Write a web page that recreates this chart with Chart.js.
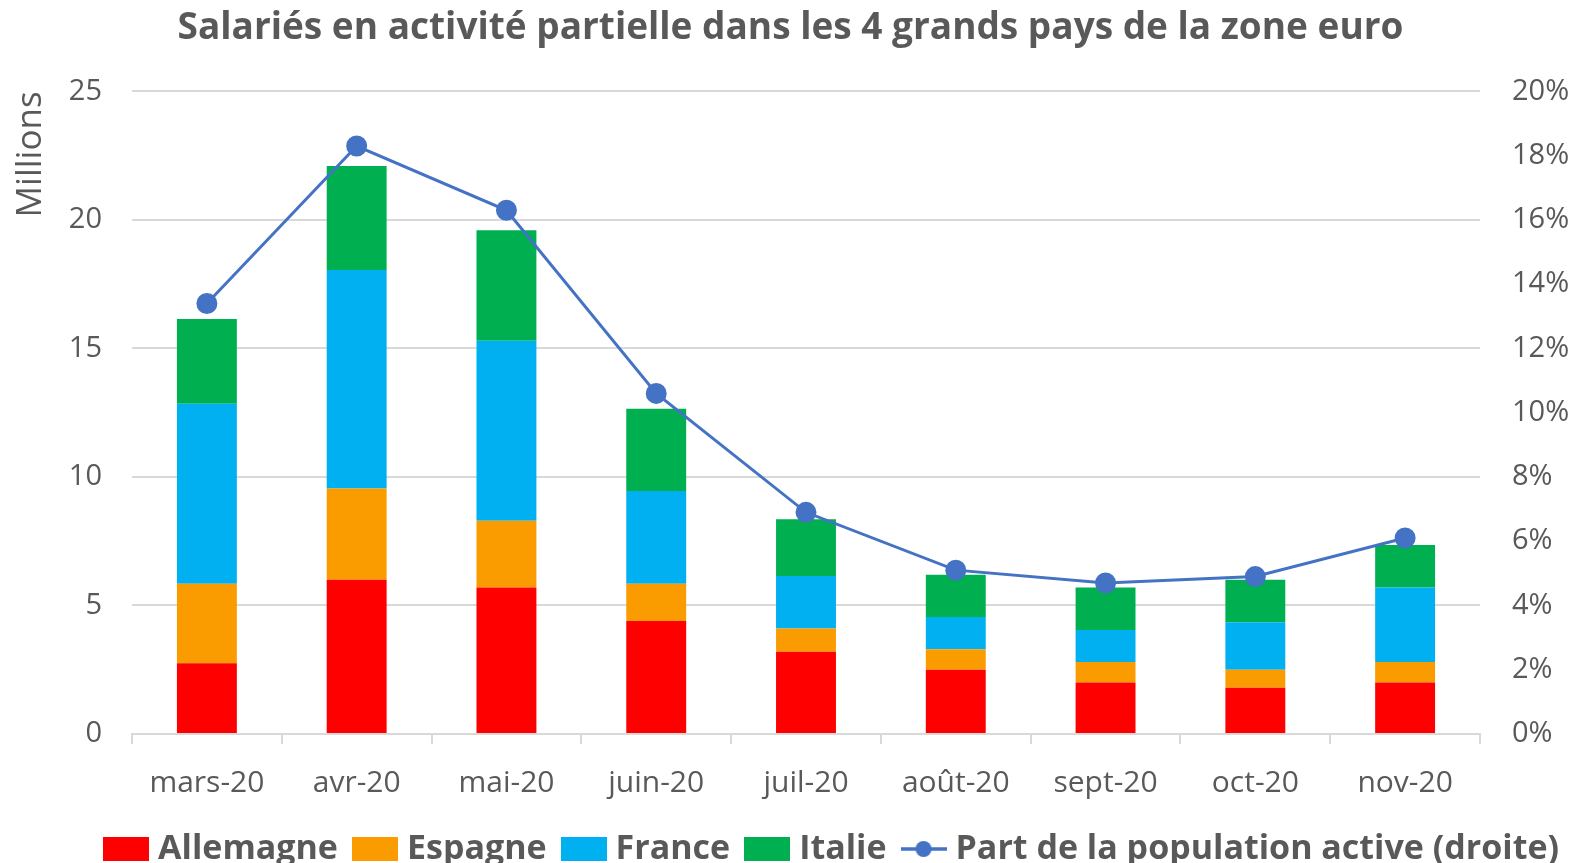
<!DOCTYPE html>
<html lang="fr">
<head>
    <meta charset="UTF-8">
    <title>Salariés en activité partielle</title>
    <script src="https://cdn.jsdelivr.net/npm/chart.js"></script>
    <style>
        html, body { margin: 0; padding: 0; background: #fff; }
        #wrap { width: 1581px; height: 863px; }
    </style>
</head>
<body>
    <div id="wrap"><canvas id="chart"></canvas></div>

    <script>
        // data (millions of employees)
        const months = ['mars-20', 'avr-20', 'mai-20', 'juin-20', 'juil-20', 'août-20', 'sept-20', 'oct-20', 'nov-20'];
        const allemagne = [2.75, 6.0, 5.7, 4.4, 3.2, 2.5, 2.0, 1.8, 2.0];
        const espagne   = [3.1, 3.55, 2.6, 1.45, 0.9, 0.8, 0.8, 0.7, 0.8];
        const france    = [7.0, 8.5, 7.0, 3.6, 2.05, 1.25, 1.25, 1.85, 2.9];
        const italie    = [3.3, 4.05, 4.3, 3.2, 2.2, 1.65, 1.65, 1.65, 1.65];
        // share of the labour force (right axis)
        const part      = [0.134, 0.183, 0.163, 0.106, 0.069, 0.051, 0.047, 0.049, 0.061];

        const grey = '#595959';
        const gridGrey = '#d9d9d9';
        const FONT = "'Open Sans', sans-serif";
        const BLUE = '#4472C4';

        // legend icons (drawn once, used as point styles)
        function rectIcon(color) {
            const cv = document.createElement('canvas');
            cv.width = 46; cv.height = 24;
            const c = cv.getContext('2d');
            c.fillStyle = color;
            c.fillRect(0, 0, 46, 24);
            return cv;
        }
        const lineIcon = document.createElement('canvas');
        lineIcon.width = 46; lineIcon.height = 24;
        (function () {
            const c = lineIcon.getContext('2d');
            c.strokeStyle = BLUE; c.lineWidth = 3.5;
            c.beginPath(); c.moveTo(0, 12); c.lineTo(46, 12); c.stroke();
            c.fillStyle = BLUE;
            c.beginPath(); c.arc(23, 12, 8, 0, Math.PI * 2); c.fill();
        })();

        const ctx = document.getElementById('chart').getContext('2d');
        new Chart(ctx, {
            data: {
                labels: months,
                datasets: [
                    { type: 'line', label: 'Part de la population active (droite)', data: part, yAxisID: 'y2',
                      borderColor: BLUE, backgroundColor: BLUE, borderWidth: 3,
                      pointRadius: 9, pointHoverRadius: 9, pointBackgroundColor: BLUE, order: 0 },
                    { type: 'bar', label: 'Allemagne', data: allemagne, backgroundColor: '#FF0000', yAxisID: 'y', order: 1 },
                    { type: 'bar', label: 'Espagne', data: espagne, backgroundColor: '#FA9C00', yAxisID: 'y', order: 1 },
                    { type: 'bar', label: 'France', data: france, backgroundColor: '#00B0F0', yAxisID: 'y', order: 1 },
                    { type: 'bar', label: 'Italie', data: italie, backgroundColor: '#00B050', yAxisID: 'y', order: 1 }
                ]
            },
            options: {
                responsive: true,
                maintainAspectRatio: false,
                animation: false,
                // negative bottom padding lets the legend sit close to the edge
                layout: { padding: { top: 0, left: 0, right: 0, bottom: -13 } },
                datasets: { bar: { categoryPercentage: 1.0, barPercentage: 0.4 } },
                scales: {
                    x: {
                        stacked: true,
                        offset: true,
                        border: { color: gridGrey, width: 2 },
                        grid: { offset: true, drawOnChartArea: false, drawTicks: true, tickLength: 10, color: gridGrey, lineWidth: 2 },
                        ticks: { color: grey, font: { family: FONT, size: 30 }, padding: 21, maxRotation: 0 },
                        afterFit: s => { s.height = 76; }
                    },
                    y: {
                        stacked: true,
                        position: 'left',
                        min: 0, max: 25,
                        border: { display: false },
                        grid: { color: gridGrey, lineWidth: 2, drawTicks: false },
                        ticks: { stepSize: 5, color: grey, font: { family: FONT, size: 29 }, padding: 30 },
                        title: { display: true, text: 'Millions', align: 'end', color: grey,
                                 font: { family: FONT, size: 35 }, padding: { top: 10, bottom: 0 } },
                        afterFit: s => { s.width = 132; }
                    },
                    y2: {
                        position: 'right',
                        min: 0, max: 0.2,
                        border: { display: false },
                        grid: { drawOnChartArea: false, drawTicks: false },
                        ticks: { stepSize: 0.02, color: grey, font: { family: FONT, size: 29 }, padding: 32,
                                 callback: v => Math.round(v * 100) + '%' },
                        afterFit: s => { s.width = 101; }
                    }
                },
                plugins: {
                    title: {
                        display: true,
                        text: 'Salariés en activité partielle dans les 4 grands pays de la zone euro',
                        color: grey,
                        font: { family: FONT, size: 37, weight: 'bold', lineHeight: 1.2 },
                        padding: { top: 6, bottom: 41 }
                    },
                    legend: {
                        position: 'bottom',
                        align: 'end',
                        labels: {
                            color: grey,
                            font: { family: FONT, size: 34, weight: 'bold' },
                            usePointStyle: true,
                            pointStyleWidth: 30,
                            boxHeight: 24,
                            padding: 22,
                            sort: (a, b) => (a.datasetIndex === 0) - (b.datasetIndex === 0),
                            generateLabels: chart => {
                                const items = Chart.defaults.plugins.legend.labels.generateLabels(chart);
                                items.forEach(it => {
                                    const ds = chart.data.datasets[it.datasetIndex];
                                    it.pointStyle = it.datasetIndex === 0 ? lineIcon : rectIcon(ds.backgroundColor);
                                    it.lineWidth = 0;
                                    it.strokeStyle = 'rgba(0,0,0,0)';
                                });
                                return items;
                            }
                        }
                    },
                    tooltip: { enabled: false }
                }
            }
        });
    </script>
</body>
</html>
